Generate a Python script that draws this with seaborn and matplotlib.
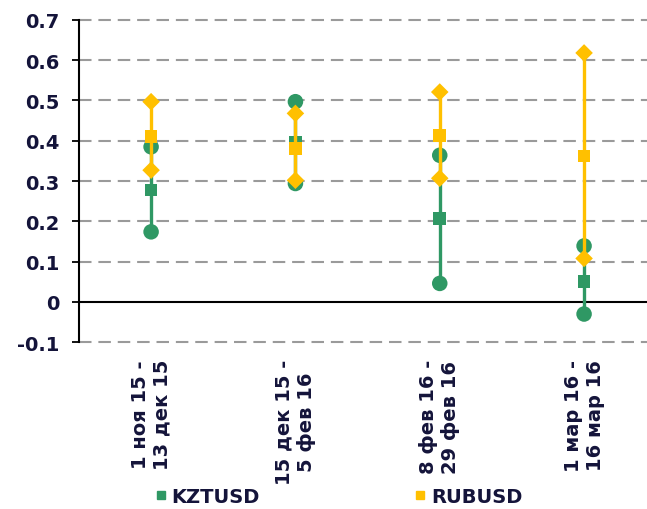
import numpy as np
import pandas as pd
import matplotlib.pyplot as plt
import seaborn as sns
from matplotlib.lines import Line2D

# Periods (x categories)
periods = ['1 ноя 15 -\n13 дек 15', '15 дек 15 -\n5 фев 16',
           '8 фев 16 -\n29 фев 16', '1 мар 16 -\n16 мар 16']

# KZTUSD: high / middle / low
kzt_high = [0.385, 0.497, 0.364, 0.139]
kzt_mid = [0.278, 0.397, 0.207, 0.050]
kzt_low = [0.174, 0.294, 0.046, -0.030]

# RUBUSD: high / middle / low
rub_high = [0.497, 0.468, 0.521, 0.618]
rub_mid = [0.410, 0.381, 0.414, 0.362]
rub_low = [0.327, 0.302, 0.307, 0.108]

y_ticks = [-0.1, 0, 0.1, 0.2, 0.3, 0.4, 0.5, 0.6, 0.7]
y_labels = ['-0.1', '0', '0.1', '0.2', '0.3', '0.4', '0.5', '0.6', '0.7']

green = '#2f9864'
yellow = '#ffc000'
txt = '#14143a'

sns.set_style('white')
plt.rcParams['font.family'] = ['DejaVu Sans']
plt.rcParams['font.weight'] = 'bold'

fig = plt.figure(figsize=(6.47, 5.10), dpi=100)
ax = fig.add_axes([0.122, 0.327, 0.878, 0.632])

x = np.arange(len(periods))

series = [
    ('KZTUSD', kzt_high, kzt_mid, kzt_low, green, 'o', 's'),
    ('RUBUSD', rub_high, rub_mid, rub_low, yellow, 'D', 's'),
]

for z, (name, hi, mid, lo, col, m_end, m_mid) in enumerate(series):
    ax.vlines(x, lo, hi, color=col, lw=2.4, zorder=3 + 2 * z)
    ends = pd.DataFrame({'x': np.concatenate([x, x]), 'y': hi + lo})
    mids = pd.DataFrame({'x': x, 'y': mid})
    s_end = 125 if m_end == 'o' else 80
    sns.scatterplot(data=ends, x='x', y='y', marker=m_end, s=s_end, color=col,
                    edgecolor='none', linewidth=0, ax=ax, zorder=4 + 2 * z)
    sns.scatterplot(data=mids, x='x', y='y', marker=m_mid, s=85, color=col,
                    edgecolor='none', linewidth=0, ax=ax, zorder=4 + 2 * z)

ax.set_ylim(-0.1, 0.7)
ax.set_xlim(-0.5, 3.436)
ax.set_yticks(y_ticks)
ax.set_yticklabels(y_labels)
ax.set_xticks(x)
ax.set_xticklabels(periods, rotation=90, ha='center', va='top',
                   multialignment='center', linespacing=1.2)

for t in y_ticks:
    if t == 0:
        ax.axhline(0, color='black', lw=1.5, zorder=2)
    else:
        ax.axhline(t, color='#9a9a9a', lw=1.5, ls=(0, (6, 3.3)), zorder=1,
                   clip_on=False)

ax.tick_params(axis='y', which='major', length=5, width=1.3, color='black',
               direction='out', pad=9, labelsize=14, labelcolor=txt, left=True)
ax.tick_params(axis='x', length=0, pad=12, labelsize=14, labelcolor=txt)

for side in ['top', 'right', 'bottom']:
    ax.spines[side].set_visible(False)
ax.spines['left'].set_color('black')
ax.spines['left'].set_linewidth(1.5)
ax.set_xlabel('')
ax.set_ylabel('')

handles = [Line2D([], [], marker='s', color=green, ls='none', markersize=6),
           Line2D([], [], marker='s', color=yellow, ls='none', markersize=6)]
fig.legend(handles, ['KZTUSD', 'RUBUSD'], loc='center',
           bbox_to_anchor=(0.5245, 0.025), ncol=2, frameon=False,
           handlelength=0.5, handletextpad=0.3, columnspacing=8.0,
           prop={'size': 14, 'weight': 'bold'}, labelcolor=txt)

fig.savefig('out.png', dpi=100)
